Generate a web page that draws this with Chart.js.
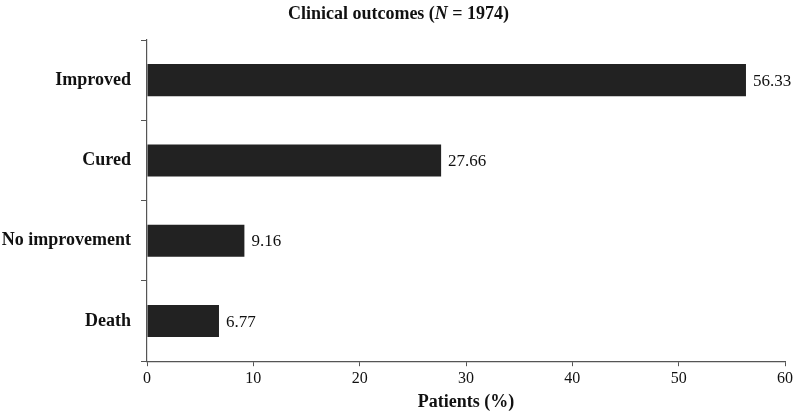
<!DOCTYPE html>
<html>
<head>
<meta charset="utf-8">
<script src="https://cdn.jsdelivr.net/npm/chart.js@4.4.0/dist/chart.umd.min.js"></script>
<style>
  html, body { margin: 0; padding: 0; background: #fff; }
  #wrap { width: 797px; height: 413px; }
</style>
</head>
<body>
<div id="wrap"><canvas id="mycanvas"></canvas></div>
<script>
var outcomes = ['Improved', 'Cured', 'No improvement', 'Death'];
var patientsPct = [56.33, 27.66, 9.16, 6.77];
var xTicks = [0, 10, 20, 30, 40, 50, 60];

var serif = '"Liberation Serif", "Times New Roman", serif';

// title with italic N, drawn by hand
var titlePlugin = {
  id: 'mixedTitle',
  afterDraw: function(chart){
    var ctx = chart.ctx;
    var parts = [
      ['bold ', 'Clinical outcomes ('],
      ['italic bold ', 'N'],
      ['bold ', ' = 1974)']
    ];
    ctx.save();
    ctx.fillStyle = '#111';
    ctx.textBaseline = 'middle';
    var total = 0;
    parts.forEach(function(p){
      ctx.font = p[0] + '18px ' + serif;
      total += ctx.measureText(p[1]).width;
    });
    var x = chart.width / 2 - total / 2;
    parts.forEach(function(p){
      ctx.font = p[0] + '18px ' + serif;
      ctx.fillText(p[1], x, 14);
      x += ctx.measureText(p[1]).width;
    });
    ctx.restore();
  }
};

var valueLabels = {
  id: 'valueLabels',
  afterDatasetsDraw: function(chart){
    var ctx = chart.ctx;
    var meta = chart.getDatasetMeta(0);
    ctx.save();
    ctx.font = '17px ' + serif;
    ctx.fillStyle = '#111';
    ctx.textBaseline = 'middle';
    meta.data.forEach(function(bar, i){
      ctx.fillText(patientsPct[i].toFixed(2), bar.x + 7, bar.y + 1);
    });
    ctx.restore();
  }
};

var ctx = document.getElementById('mycanvas');
var barGraph = new Chart(ctx, {
  type: 'bar',
  data: {
    labels: outcomes,
    datasets: [{
      label: 'Patients (%)',
      data: patientsPct,
      backgroundColor: '#222222',
      borderWidth: 0,
      barPercentage: 0.4,
      categoryPercentage: 1.0
    }]
  },
  options: {
    indexAxis: 'y',
    responsive: true,
    maintainAspectRatio: false,
    animation: false,
    layout: { padding: { top: 40, right: 12, bottom: 0, left: 0 } },
    plugins: {
      legend: { display: false },
      tooltip: { enabled: false },
      title: { display: false }
    },
    scales: {
      x: {
        min: 0,
        max: 60,
        afterBuildTicks: function(axis){
          axis.ticks = xTicks.map(function(v){ return { value: v }; });
        },
        grid: { drawOnChartArea: false, tickLength: 5, color: '#555' },
        border: { color: '#555', width: 1.2 },
        ticks: { color: '#111', font: { family: serif, size: 16 }, padding: 3, maxRotation: 0 },
        title: {
          display: true,
          text: 'Patients (%)',
          color: '#111',
          font: { family: serif, size: 18, weight: 'bold' },
          padding: { top: 0, bottom: 0 }
        }
      },
      y: {
        afterFit: function(axis){ axis.width = 147; },
        grid: { offset: true, drawOnChartArea: false, tickLength: 6, color: '#555' },
        border: { color: '#555', width: 1.2 },
        ticks: { color: '#111', font: { family: serif, size: 18, weight: 'bold' }, padding: 10 }
      }
    }
  },
  plugins: [titlePlugin, valueLabels]
});
</script>
</body>
</html>
